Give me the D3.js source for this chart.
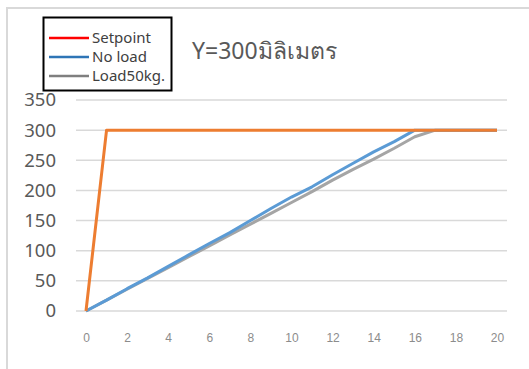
<!DOCTYPE html>
<html>
<head>
<meta charset="utf-8">
<script src="https://cdn.jsdelivr.net/npm/d3@7"></script>
<style>
  body { margin: 0; background: #fff; }
  svg { display: block; font-family: "Noto Sans", "DejaVu Sans", sans-serif; }
</style>
</head>
<body>
<svg width="529" height="369"></svg>
<script>
// x values (time steps)
const xs = d3.range(0, 21);
const setpoint = [0, 300, 300, 300, 300, 300, 300, 300, 300, 300, 300,
                  300, 300, 300, 300, 300, 300, 300, 300, 300, 300];
const noLoad   = [0, 18, 37, 55, 74, 93, 112, 130, 150, 170, 189,
                  206, 226, 245, 264, 281, 300, 300, 300, 300, 300];
const load50   = [0, 18, 36, 54, 72, 90, 108, 126, 144, 162, 180,
                  198, 217, 235, 252, 270, 289, 300, 300, 300, 300];
const yTicks = [0, 50, 100, 150, 200, 250, 300, 350];
const xTicks = [0, 2, 4, 6, 8, 10, 12, 14, 16, 18, 20];

const series = [
  {name: 'Setpoint', values: setpoint, color: '#ED7D31', legend: '#FF0000'},
  {name: 'No load', values: noLoad, color: '#5B9BD5', legend: '#2E75B6'},
  {name: 'Load50kg.', values: load50, color: '#A5A5A5', legend: '#7F7F7F'}
];

const svg = d3.select('svg');

// outer frame (only top and left edges visible)
svg.append('path')
  .attr('d', 'M7,369 L7,8 L529,8')
  .attr('fill', 'none')
  .attr('stroke', '#d9d9d9')
  .attr('stroke-width', 2);

const x = d3.scaleLinear().domain([0, 20]).range([86, 497]);
const y = d3.scaleLinear().domain([0, 350]).range([311, 100]);

// gridlines
svg.append('g').selectAll('line')
  .data(yTicks)
  .join('line')
  .attr('x1', 76).attr('x2', 507)
  .attr('y1', d => y(d)).attr('y2', d => y(d))
  .attr('stroke', '#d9d9d9')
  .attr('stroke-width', 1.5);

// y labels
const yAxis = svg.append('g')
  .attr('transform', 'translate(56,0)')
  .call(d3.axisLeft(y).tickValues(yTicks).tickSize(0).tickPadding(0));
yAxis.select('.domain').remove();
yAxis.selectAll('text')
  .attr('fill', '#595959')
  .style('font-size', '18.5px')
  .style('font-family', '"Noto Sans", "DejaVu Sans", sans-serif');

// x labels
const xAxis = svg.append('g')
  .attr('transform', 'translate(0,333)')
  .call(d3.axisBottom(x).tickValues(xTicks).tickSize(0).tickPadding(0));
xAxis.select('.domain').remove();
xAxis.selectAll('text')
  .attr('fill', '#8c8c8c')
  .style('font-size', '12px')
  .style('font-family', '"Liberation Sans", Arial, sans-serif');

// lines (draw gray first, setpoint last)
const line = d3.line().x((d, i) => x(xs[i])).y(d => y(d));
svg.append('g').selectAll('path')
  .data(series.slice().reverse())
  .join('path')
  .attr('d', d => line(d.values))
  .attr('fill', 'none')
  .attr('stroke', d => d.color)
  .attr('stroke-width', 3)
  .attr('stroke-linejoin', 'round');

// legend
const lg = svg.append('g');
lg.append('rect')
  .attr('x', 43.5).attr('y', 17.5)
  .attr('width', 128).attr('height', 73)
  .attr('fill', '#fff')
  .attr('stroke', '#000')
  .attr('stroke-width', 2);
const items = lg.selectAll('g.item')
  .data(series)
  .join('g')
  .attr('class', 'item')
  .attr('transform', (d, i) => `translate(0,${38 + i * 19})`);
items.append('line')
  .attr('x1', 49).attr('x2', 89)
  .attr('stroke', d => d.legend)
  .attr('stroke-width', 2.5);
items.append('text')
  .attr('x', 92).attr('dy', '0.35em')
  .attr('fill', '#404040')
  .style('font-size', '15px')
  .text(d => d.name);

// title
svg.append('text')
  .attr('x', 192).attr('y', 59)
  .attr('fill', '#595959')
  .style('font-size', '23px')
  .text('Y=300มิลิเมตร');
</script>
</body>
</html>
